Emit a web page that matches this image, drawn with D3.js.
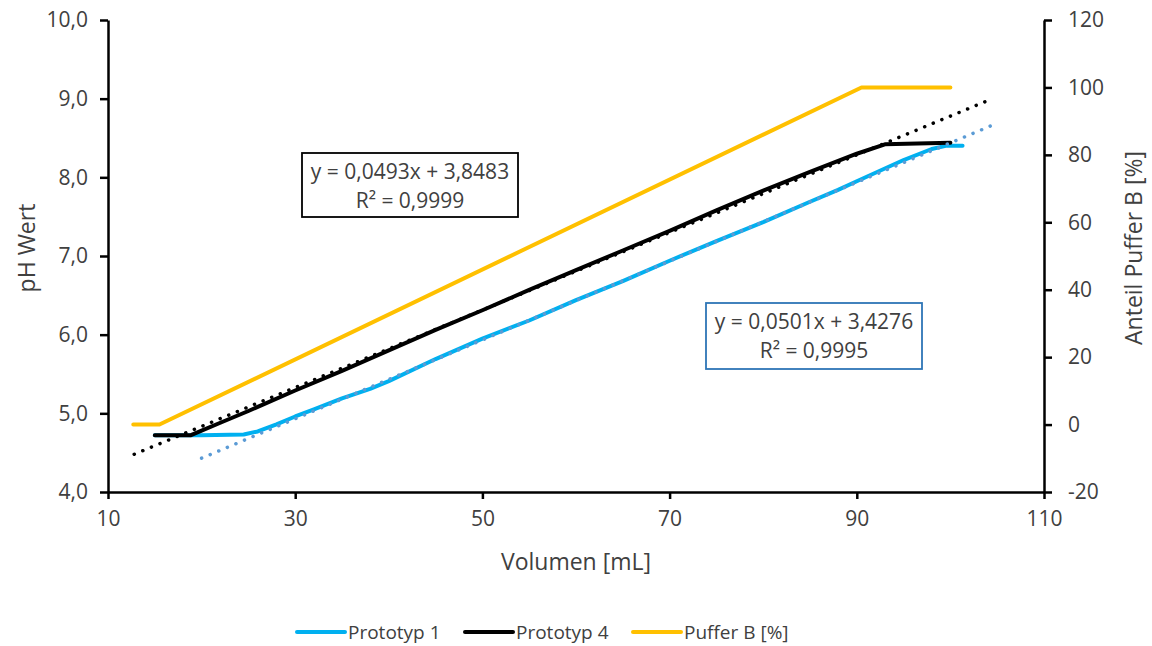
<!DOCTYPE html>
<html>
<head>
<meta charset="utf-8">
<script src="https://cdn.jsdelivr.net/npm/d3@7"></script>
<style>
  body { margin: 0; background: #fff; }
  text { font-family: "Open Sans", sans-serif; fill: #404040; }
</style>
</head>
<body>
<svg id="chart" width="1152" height="646"></svg>
<script>
// Elution volume [mL] and pH readings, Prototyp 1
const proto1Vol = [15, 20, 24.5, 26, 28, 30, 32, 35, 38, 40, 45, 50, 55, 60, 65, 70, 75, 80, 85, 88, 90, 95, 98, 99.5, 101.3];
const proto1PH  = [4.72, 4.72, 4.73, 4.77, 4.86, 4.96, 5.05, 5.19, 5.31, 5.41, 5.69, 5.95, 6.18, 6.44, 6.68, 6.94, 7.19, 7.43, 7.69, 7.84, 7.95, 8.22, 8.36, 8.40, 8.40];

// Elution volume [mL] and pH readings, Prototyp 4
const proto4Vol = [15, 18.8, 20, 22, 25, 30, 35, 40, 45, 50, 55, 60, 65, 70, 75, 80, 85, 90, 93, 100];
const proto4PH  = [4.72, 4.72, 4.78, 4.88, 5.03, 5.29, 5.54, 5.80, 6.06, 6.31, 6.57, 6.82, 7.07, 7.32, 7.58, 7.83, 8.07, 8.30, 8.42, 8.44];

// Gradient programme: share of buffer B [%]
const pufferVol = [12.7, 15.5, 90.5, 100];
const pufferPct = [0, 0, 100, 100];

// Linear trendlines as reported (slope, intercept, R²) and their x extent
const trendP1 = { slope: 0.0501, intercept: 3.4276, r2: 0.9995, x0: 20, x1: 104.3 };
const trendP4 = { slope: 0.0493, intercept: 3.8483, r2: 0.9999, x0: 12.8, x1: 104.3 };

// Axis ticks
const xTicks  = [10, 30, 50, 70, 90, 110];
const yTicks  = [4, 5, 6, 7, 8, 9, 10];
const y2Ticks = [-20, 0, 20, 40, 60, 80, 100, 120];

const seriesNames  = ["Prototyp 1", "Prototyp 4", "Puffer B [%]"];
const seriesColors = ["#00B0F0", "#000000", "#FFC000"];

const de = d3.formatLocale({ decimal: ",", thousands: ".", grouping: [3], currency: ["", " €"], minus: "-" });
const fmt1 = de.format(".1f");
const fmt4 = de.format(".4f");
const fmtInt = de.format("d");

const svg = d3.select("#chart");
const plot = { left: 108, right: 1044, top: 20, bottom: 492 };

const x  = d3.scaleLinear().domain([10, 110]).range([plot.left, plot.right]);
const y  = d3.scaleLinear().domain([4, 10]).range([plot.bottom, plot.top]);
const y2 = d3.scaleLinear().domain([-20, 120]).range([plot.bottom, plot.top]);

// Axes
function styleAxis(g, size) {
  g.select(".domain").attr("stroke", "#000").attr("stroke-width", 2.5);
  g.selectAll(".tick line").attr("stroke", "#000").attr("stroke-width", 2.5);
  g.selectAll(".tick text").attr("font-size", size).attr("fill", "#404040")
    .attr("font-family", "'Open Sans', sans-serif");
}

svg.append("g")
  .attr("transform", `translate(0,${plot.bottom})`)
  .call(d3.axisBottom(x).tickValues(xTicks).tickSize(7).tickSizeOuter(0).tickPadding(12).tickFormat(fmtInt))
  .call(g => styleAxis(g, 21));

svg.append("g")
  .attr("transform", `translate(${plot.left},0)`)
  .call(d3.axisLeft(y).tickValues(yTicks).tickSize(8).tickSizeOuter(0).tickPadding(12).tickFormat(fmt1))
  .call(g => styleAxis(g, 21));

svg.append("g")
  .attr("transform", `translate(${plot.right},0)`)
  .call(d3.axisRight(y2).tickValues(y2Ticks).tickSize(8).tickSizeOuter(0).tickPadding(16).tickFormat(fmtInt))
  .call(g => styleAxis(g, 21));

// Axis titles
svg.append("text").attr("x", (plot.left + plot.right) / 2).attr("y", 570)
  .attr("text-anchor", "middle").attr("font-size", 23).text("Volumen [mL]");
svg.append("text").attr("transform", "translate(35,248) rotate(-90)")
  .attr("text-anchor", "middle").attr("font-size", 23).text("pH Wert");
svg.append("text").attr("transform", "translate(1142,248) rotate(-90)")
  .attr("text-anchor", "middle").attr("font-size", 23).text("Anteil Puffer B [%]");

// Series lines
const lineY  = d3.line().x(d => x(d[0])).y(d => y(d[1]));
const lineY2 = d3.line().x(d => x(d[0])).y(d => y2(d[1]));

const seriesG = svg.append("g").attr("fill", "none")
  .attr("stroke-width", 4).attr("stroke-linecap", "round").attr("stroke-linejoin", "round");

seriesG.append("path").attr("stroke", seriesColors[0])
  .attr("d", lineY(d3.zip(proto1Vol, proto1PH)));
seriesG.append("path").attr("stroke", seriesColors[1])
  .attr("d", lineY(d3.zip(proto4Vol, proto4PH)));
seriesG.append("path").attr("stroke", seriesColors[2])
  .attr("d", lineY2(d3.zip(pufferVol, pufferPct)));

// Trendlines from the reported regression equations
function trendPts(t) {
  return [t.x0, t.x1].map(v => [v, t.slope * v + t.intercept]);
}
const trendG = svg.append("g").attr("fill", "none")
  .attr("stroke-linecap", "round").attr("stroke-width", 3.5).attr("stroke-dasharray", "0.1 9.2");
trendG.append("path").attr("stroke", "#5B9BD5").attr("d", lineY(trendPts(trendP1)));
trendG.append("path").attr("stroke", "#000").attr("d", lineY(trendPts(trendP4)));

// Equation labels
function eqBox(t, box, color) {
  const g = svg.append("g");
  g.append("rect").attr("x", box.x).attr("y", box.y).attr("width", box.w).attr("height", box.h)
    .attr("fill", "#fff").attr("stroke", color).attr("stroke-width", 1.8);
  g.append("text").attr("x", box.x + box.w / 2).attr("y", box.y + 26)
    .attr("text-anchor", "middle").attr("font-size", 21)
    .text(`y = ${fmt4(t.slope)}x + ${fmt4(t.intercept)}`);
  g.append("text").attr("x", box.x + box.w / 2).attr("y", box.y + 55)
    .attr("text-anchor", "middle").attr("font-size", 21)
    .text(`R² = ${fmt4(t.r2)}`);
}
eqBox(trendP4, { x: 302, y: 153, w: 216, h: 64 }, "#000");
eqBox(trendP1, { x: 706, y: 303, w: 216, h: 66 }, "#2E75B6");

// Legend
const legendX = [297, 465, 633];
const legend = svg.append("g");
seriesNames.forEach((name, i) => {
  legend.append("line").attr("x1", legendX[i]).attr("x2", legendX[i] + 48)
    .attr("y1", 632).attr("y2", 632).attr("stroke", seriesColors[i])
    .attr("stroke-width", 4).attr("stroke-linecap", "round");
  legend.append("text").attr("x", legendX[i] + 51).attr("y", 639)
    .attr("font-size", 19).text(name);
});
</script>
</body>
</html>
